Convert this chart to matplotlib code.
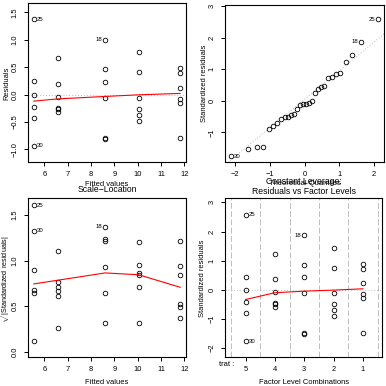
import matplotlib
matplotlib.use("Agg")
import matplotlib.pyplot as plt
import numpy as np
from statistics import NormalDist

plt.rcParams['font.family'] = ['Liberation Sans', 'DejaVu Sans']
plt.rcParams['mathtext.fontset'] = 'custom'
plt.rcParams['mathtext.rm'] = 'Liberation Sans'

# ---------------- data ----------------
trat_levels = ['1', '2', '3', '4', '5']
fitted_by_level = [11.82, 10.04, 8.60, 6.57, 5.545]
# residuals per level, in observation order (level 1 = obs 1-6, ..., level 5 = obs 25-30)
resid_level1 = [0.476, 0.384, 0.128, -0.073, -0.146, -0.787]
resid_level2 = [0.768, 0.402, -0.055, -0.268, -0.378, -0.482]
resid_level3 = [0.457, 0.226, -0.055, -0.787, -0.817, 1.000]
resid_level4 = [0.659, 0.201, -0.037, -0.238, -0.268, -0.311]
resid_level5 = [1.378, 0.244, -0.008, -0.226, -0.433, -0.939]
id_labels = [25, 30, 18]
# red smoother values at levels ordered by fitted value 5,4,3,2,1
smooth_resid_fitted = [-0.12, -0.08, -0.035, -0.005, 0.02]
smooth_scale_location = [0.745, 0.785, 0.865, 0.845, 0.708]
smooth_factor_levels = [-0.333, -0.10, -0.046, -0.01, 0.035]

# ---------------- derived quantities ----------------
resid_groups = [resid_level1, resid_level2, resid_level3, resid_level4, resid_level5]
resid = np.concatenate(resid_groups)
fitted = np.repeat(fitted_by_level, 6)
n = len(resid)
p = len(trat_levels)
s = np.sqrt(np.sum(resid ** 2) / (n - p))
h = 1.0 / 6
stdres = resid / (s * np.sqrt(1 - h))
sqrt_abs = np.sqrt(np.abs(stdres))
order_levels = np.argsort(fitted_by_level)
pos_of_level = np.empty(p)
pos_of_level[order_levels] = np.arange(p)
facpos = np.repeat(pos_of_level, 6)
fit_sorted = np.sort(fitted_by_level)

# ---------------- figure ----------------
W = H = 386
fig = plt.figure(figsize=(W / 100, H / 100), dpi=100)


def ax_at(l, r, t, b):
    return fig.add_axes([l / W, 1 - b / H, (r - l) / W, (b - t) / H])


FS = 5.4
TFS = 6.2
LFS = 4.3
pt_kw = dict(ls='none', marker='o', mfc='none', mec='black', ms=3.3, mew=0.6)
gray = '#BEBEBE'


def style(ax):
    for sp in ax.spines.values():
        sp.set_linewidth(0.8)
    ax.tick_params(direction='out', length=3.0, width=0.7, labelsize=FS, pad=3.8)
    for lab in ax.get_yticklabels():
        lab.set_rotation(90)
        lab.set_va('center')


def label(ax, x, y, text, side):
    off = 2.0 if side == 'right' else -2.0
    ax.annotate(text, (x, y), xytext=(off, 0), textcoords='offset points',
                ha='left' if side == 'right' else 'right', va='center', fontsize=LFS)


def fig_text(x, y, s, size=FS, rot=0, **kw):
    fig.text(x / W, 1 - y / H, s, fontsize=size, rotation=rot, ha='center', va='center', **kw)


xlo = fitted.min() - 0.04 * np.ptp(fitted)
xhi = fitted.max() + 0.04 * np.ptp(fitted)

# ---- Panel 1: Residuals vs Fitted ----
ax1 = ax_at(28, 186, 3, 162)
ax1.axhline(0, color=gray, ls=(0, (1, 2)), lw=0.7)
ax1.plot(fitted, resid, **pt_kw)
ax1.plot(fit_sorted, smooth_resid_fitted, color='red', lw=0.8)
ax1.set_xlim(xlo, xhi)
ax1.set_ylim(-1.231, 1.67)
ax1.set_xticks([6, 7, 8, 9, 10, 11, 12])
ax1.set_yticks([-1.0, -0.5, 0.0, 0.5, 1.0, 1.5])
ax1.set_yticklabels(['\u22121.0', '\u22120.5', '0.0', '0.5', '1.0', '1.5'])
style(ax1)
for i in id_labels:
    k = i - 1
    label(ax1, fitted[k], resid[k], str(i), 'right' if i != 18 else 'left')
fig_text(107, 185, 'Fitted values')
fig_text(7, 83, 'Residuals', rot=90)

# ---- Panel 2: Normal Q-Q ----
ax2 = ax_at(225, 384, 5, 162)
ordr = np.argsort(stdres)
nd = NormalDist()
theo = np.array([nd.inv_cdf((i - 0.5) / n) for i in range(1, n + 1)])
ys = stdres[ordr]
q1, q3 = np.quantile(stdres, [0.25, 0.75])
t1, t3 = nd.inv_cdf(0.25), nd.inv_cdf(0.75)
slope = (q3 - q1) / (t3 - t1)
inter = q1 - slope * t1
xx = np.array([-3, 3])
ax2.plot(xx, inter + slope * xx, color=gray, ls=(0, (1, 2)), lw=0.7)
ax2.plot(theo, ys, **pt_kw)
ax2.set_xlim(-2.30, 2.30)
ax2.set_ylim(-1.94, 3.03)
ax2.set_xticks([-2, -1, 0, 1, 2])
ax2.set_yticks([-1, 0, 1, 2, 3])
style(ax2)
for i in id_labels:
    k = i - 1
    j = np.where(ordr == k)[0][0]
    label(ax2, theo[j], ys[j], str(i), 'right' if i == 30 else 'left')
fig_text(305, 184, 'Theoretical Quantiles')
fig_text(205, 83, 'Standardized residuals', rot=90)

# ---- Panel 3: Scale-Location ----
ax3 = ax_at(28, 186, 198, 357)
ax3.plot(fitted, sqrt_abs, **pt_kw)
ax3.plot(fit_sorted, smooth_scale_location, color='red', lw=0.8)
ax3.set_xlim(xlo, xhi)
ax3.set_ylim(-0.055, 1.685)
ax3.set_xticks([6, 7, 8, 9, 10, 11, 12])
ax3.set_yticks([0.0, 0.5, 1.0, 1.5])
ax3.set_yticklabels(['0.0', '0.5', '1.0', '1.5'])
style(ax3)
for i in id_labels:
    k = i - 1
    label(ax3, fitted[k], sqrt_abs[k], str(i), 'right' if i != 18 else 'left')
fig_text(107, 382, 'Fitted values')
fig_text(107, 190, 'Scale\u2212Location', size=TFS)
fig_text(5.5, 278, r'$\sqrt{|\mathrm{Standardized\ residuals}|}$', size=5.2, rot=90)

# ---- Panel 4: Constant Leverage ----
ax4 = ax_at(225, 382, 198, 357)
for v in np.arange(-0.5, p, 1.0):
    ax4.axvline(v, color=gray, ls=(0, (6, 2.5)), lw=0.7)
ax4.axhline(0, color=gray, ls=(0, (1, 2)), lw=0.7)
ax4.plot(facpos, stdres, **pt_kw)
ax4.plot(np.arange(p), smooth_factor_levels, color='red', lw=0.8)
ax4.set_xlim(-0.7, 4.65)
ax4.set_ylim(-2.305, 3.15)
ax4.set_xticks(np.arange(p))
ax4.set_xticklabels([trat_levels[k] for k in order_levels])
ax4.set_yticks([-2, -1, 0, 1, 2, 3])
style(ax4)
for i in id_labels:
    k = i - 1
    label(ax4, facpos[k], stdres[k], str(i), 'right' if i != 18 else 'left')
fig_text(304, 382, 'Factor Level Combinations')
fig_text(227, 365, 'trat :')
fig_text(304, 181, 'Constant Leverage:', size=TFS)
fig_text(304, 192, 'Residuals vs Factor Levels', size=TFS)
fig_text(203, 278, 'Standardized residuals', rot=90)

fig.savefig('out.png', dpi=100)
